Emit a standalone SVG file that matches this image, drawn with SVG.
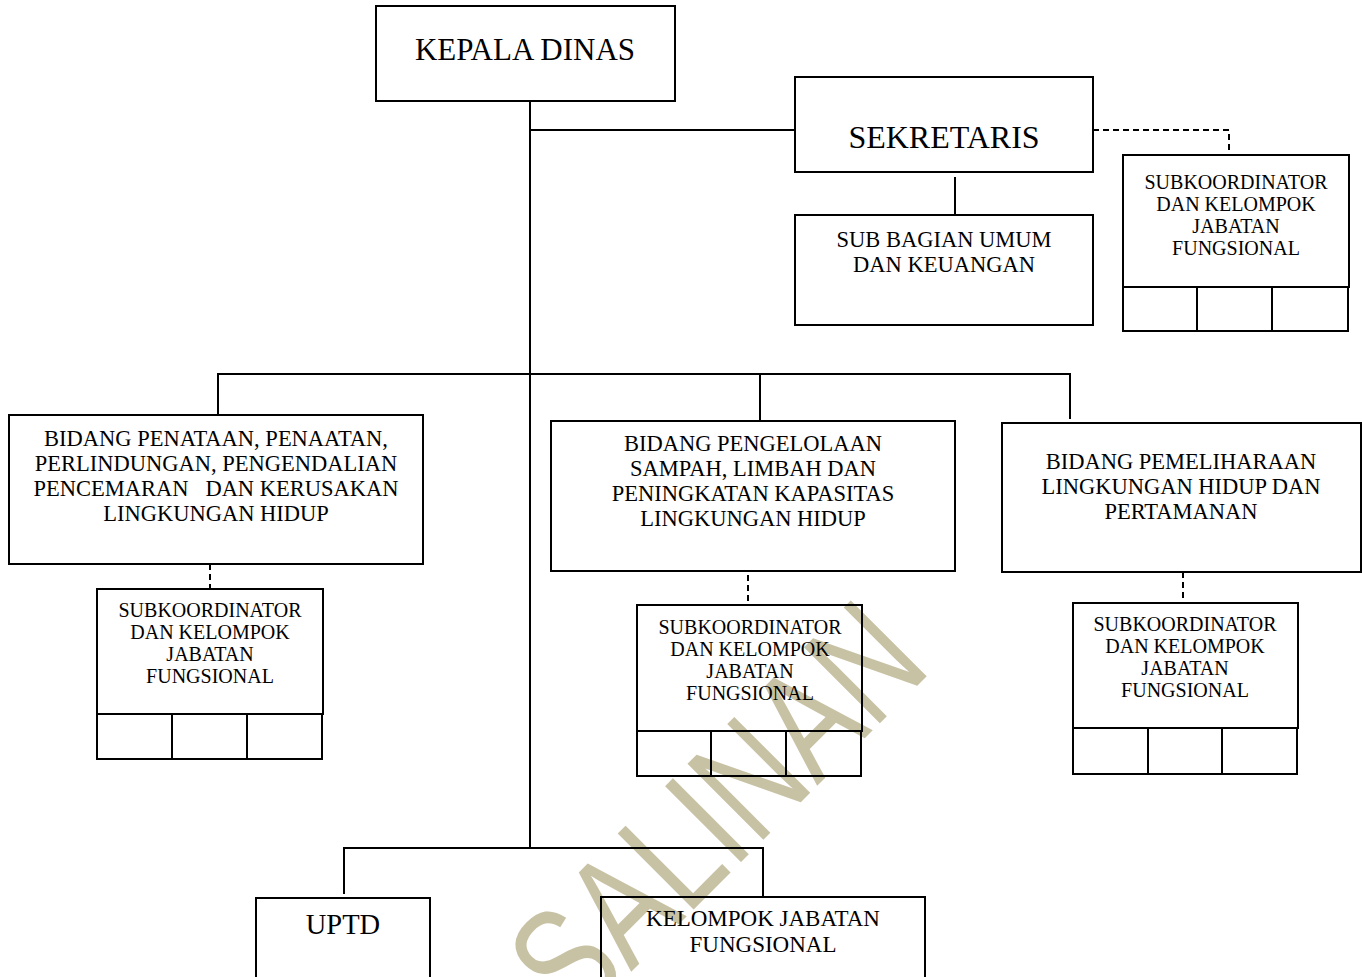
<svg xmlns="http://www.w3.org/2000/svg" width="1362" height="977" viewBox="0 0 1362 977">
<style>
.box{fill:none;stroke:#000;stroke-width:2}
.ln{fill:none;stroke:#000;stroke-width:2}
.dash{fill:none;stroke:#000;stroke-width:2;stroke-dasharray:6 4}
text{font-family:"Liberation Serif","Times New Roman",serif;fill:#000;text-anchor:middle}
.t22{font-size:22.5px}
.t19{font-size:20px}
.wm{font-family:"Liberation Sans",Arial,sans-serif;font-size:156px;fill:#c8c2a5;text-anchor:start}
</style>
<rect width="1362" height="977" fill="#fff"/>
<g id="watermark">
<text class="wm" transform="translate(575,1028) rotate(-45)" x="0" y="0" textLength="507" lengthAdjust="spacingAndGlyphs">SALINAN</text>
</g>
<g id="connectors">
<path class="ln" d="M530,101 V848"/>
<path class="ln" d="M530,130 H795"/>
<path class="dash" d="M1093,130 H1229 V155"/>
<path class="ln" d="M955,177 V215"/>
<path class="ln" d="M218,415 V374 H1070 V419"/>
<path class="ln" d="M760,374 V421"/>
<path class="dash" d="M210,564 V589"/>
<path class="dash" d="M748,575 V605"/>
<path class="dash" d="M1183,572 V603"/>
<path class="ln" d="M344,894 V848 H763 V897"/>
</g>
<g id="kepala">
<rect class="box" x="376" y="6" width="299" height="95"/>
<text x="525" y="60" style="font-size:31px">KEPALA DINAS</text>
</g>
<g id="sekretaris">
<rect class="box" x="795" y="77" width="298" height="95"/>
<text x="944" y="148" style="font-size:32px">SEKRETARIS</text>
</g>
<g id="subbagian">
<rect class="box" x="795" y="215" width="298" height="110"/>
<text class="t22" x="944" y="247">SUB BAGIAN UMUM</text>
<text class="t22" x="944" y="272">DAN KEUANGAN</text>
</g>
<g id="subkoor-sek">
<rect class="box" x="1123" y="155" width="226" height="132"/>
<rect class="box" x="1123" y="287" width="225" height="44"/>
<path class="ln" d="M1197,287 V331 M1272,287 V331"/>
<text class="t19" x="1236" y="189">SUBKOORDINATOR</text>
<text class="t19" x="1236" y="211">DAN KELOMPOK</text>
<text class="t19" x="1236" y="233">JABATAN</text>
<text class="t19" x="1236" y="255">FUNGSIONAL</text>
</g>
<g id="bidang1">
<rect class="box" x="9" y="415" width="414" height="149"/>
<text class="t22" x="216" y="446">BIDANG PENATAAN, PENAATAN,</text>
<text class="t22" x="216" y="471">PERLINDUNGAN, PENGENDALIAN</text>
<text class="t22" x="216" y="496" xml:space="preserve">PENCEMARAN   DAN KERUSAKAN</text>
<text class="t22" x="216" y="521">LINGKUNGAN HIDUP</text>
</g>
<g id="subkoor1">
<rect class="box" x="97" y="589" width="226" height="125"/>
<rect class="box" x="97" y="714" width="225" height="45"/>
<path class="ln" d="M172,714 V759 M247,714 V759"/>
<text class="t19" x="210" y="617">SUBKOORDINATOR</text>
<text class="t19" x="210" y="639">DAN KELOMPOK</text>
<text class="t19" x="210" y="661">JABATAN</text>
<text class="t19" x="210" y="683">FUNGSIONAL</text>
</g>
<g id="bidang2">
<rect class="box" x="551" y="421" width="404" height="150"/>
<text class="t22" x="753" y="451">BIDANG PENGELOLAAN</text>
<text class="t22" x="753" y="476">SAMPAH, LIMBAH DAN</text>
<text class="t22" x="753" y="501">PENINGKATAN KAPASITAS</text>
<text class="t22" x="753" y="526">LINGKUNGAN HIDUP</text>
</g>
<g id="subkoor2">
<rect class="box" x="637" y="605" width="225" height="126"/>
<rect class="box" x="637" y="731" width="224" height="45"/>
<path class="ln" d="M711,731 V776 M786,731 V776"/>
<text class="t19" x="750" y="634">SUBKOORDINATOR</text>
<text class="t19" x="750" y="656">DAN KELOMPOK</text>
<text class="t19" x="750" y="678">JABATAN</text>
<text class="t19" x="750" y="700">FUNGSIONAL</text>
</g>
<g id="bidang3">
<rect class="box" x="1002" y="423" width="359" height="149"/>
<text class="t22" x="1181" y="469">BIDANG PEMELIHARAAN</text>
<text class="t22" x="1181" y="494">LINGKUNGAN HIDUP DAN</text>
<text class="t22" x="1181" y="519">PERTAMANAN</text>
</g>
<g id="subkoor3">
<rect class="box" x="1073" y="603" width="225" height="125"/>
<rect class="box" x="1073" y="728" width="224" height="46"/>
<path class="ln" d="M1148,728 V774 M1222,728 V774"/>
<text class="t19" x="1185" y="631">SUBKOORDINATOR</text>
<text class="t19" x="1185" y="653">DAN KELOMPOK</text>
<text class="t19" x="1185" y="675">JABATAN</text>
<text class="t19" x="1185" y="697">FUNGSIONAL</text>
</g>
<g id="uptd">
<rect class="box" x="256" y="898" width="174" height="100"/>
<text x="343" y="934" style="font-size:28.5px">UPTD</text>
</g>
<g id="kelompok">
<rect class="box" x="601" y="897" width="324" height="100"/>
<text x="763" y="926" style="font-size:23px">KELOMPOK JABATAN</text>
<text x="763" y="952" style="font-size:23px">FUNGSIONAL</text>
</g>
</svg>
